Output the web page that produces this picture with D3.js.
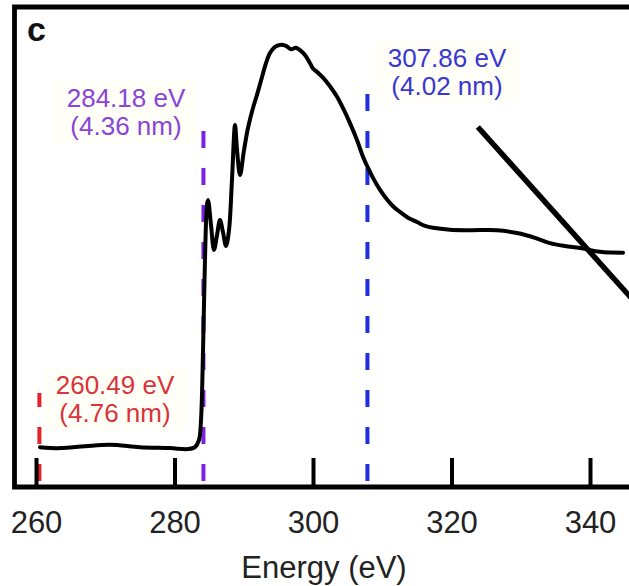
<!DOCTYPE html>
<html>
<head>
<meta charset="utf-8">
<script src="https://cdn.jsdelivr.net/npm/d3@7"></script>
<style>
  html, body { margin: 0; padding: 0; background: #fff; }
  svg { display: block; font-family: "Liberation Sans", Arial, sans-serif; }
</style>
</head>
<body>
<div id="chart"></div>
<script>
// spectrum: energy (eV) and normalised absorbance (0-100)
const energy = [260.58, 263.47, 267.08, 270.69, 275.02, 279.35, 281.95, 282.96, 283.54, 283.83,
  284.12, 284.40, 284.69, 284.84, 285.27, 285.70, 286.14, 286.57, 287.00, 287.44,
  287.87, 288.30, 288.74, 289.03, 289.46, 290.04, 290.61, 291.34, 291.91, 292.64,
  293.21, 293.79, 294.51, 295.23, 296.10, 296.82, 297.55, 298.12, 298.84, 299.57,
  300.00, 300.72, 301.44, 302.45, 303.47, 304.48, 305.34, 306.35, 307.22, 307.94,
  308.66, 309.68, 310.69, 311.55, 312.56, 313.72, 315.02, 316.17, 317.33, 319.78,
  322.67, 326.57, 329.46, 332.06, 334.22, 336.39, 338.56, 341.44, 344.77];
const absorb = [8.3, 8.1, 8.5, 8.8, 8.3, 8.1, 7.9, 8.3, 9.8, 14.0,
  28.5, 47.3, 58.8, 59.8, 54.6, 49.4, 52.5, 55.6, 53.1, 50.2,
  53.5, 64.0, 75.4, 70.2, 65.0, 70.2, 74.8, 79.0, 81.7, 85.4,
  88.3, 90.4, 91.7, 92.1, 91.9, 91.2, 91.5, 91.0, 90.0, 88.3,
  87.2, 86.3, 85.3, 83.5, 81.3, 78.5, 75.8, 72.3, 68.8, 66.5,
  64.4, 61.9, 59.9, 58.5, 57.3, 56.1, 55.2, 54.4, 54.0, 53.6,
  53.5, 53.5, 52.9, 51.9, 50.8, 50.2, 49.8, 49.0, 48.8];

// marked energies
const markEnergy = [260.49, 284.18, 307.86];
const markTop = [19.6, 74.4, 83.1];
const markLine1 = ["260.49 eV", "284.18 eV", "307.86 eV"];
const markLine2 = ["(4.76 nm)", "(4.36 nm)", "(4.02 nm)"];
const markColor = ["#e8222a", "#7d22e0", "#1f2ee0"];
const markTextColor = ["#d9343a", "#8a45d6", "#3838d0"];
const markLabelX = [115, 126, 447];
const markLabelY = [19.4, 79.1, 87.5];

const xTicks = [260, 280, 300, 320, 340];

// the diagonal stroke on the right
const slashEnergy = [323.8, 346.5];
const slashValue = [75.0, 38.5];

const W = 629, H = 586;
const x = d3.scaleLinear().domain([260, 340]).range([36, 590]);
const y = d3.scaleLinear().domain([0, 100]).range([487, 7]);

const svg = d3.select("#chart").append("svg")
  .attr("width", W).attr("height", H)
  .attr("viewBox", `0 0 ${W} ${H}`);

// faint label backgrounds
markEnergy.forEach((e, i) => {
  svg.append("rect")
    .attr("x", markLabelX[i] - 72)
    .attr("y", y(markLabelY[i]) - 26)
    .attr("width", 144)
    .attr("height", 62)
    .attr("fill", "#fffef7");
});

// dashed markers, drawn from the bottom up so dashes line up with the axis
markEnergy.forEach((e, i) => {
  svg.append("line")
    .attr("x1", x(e)).attr("x2", x(e))
    .attr("y1", y(1.25)).attr("y2", y(markTop[i]))
    .attr("stroke", markColor[i])
    .attr("stroke-width", 4)
    .attr("stroke-dasharray", "17,20");
});

// labels, one text per line
markEnergy.forEach((e, i) => {
  [markLine1[i], markLine2[i]].forEach((s, k) => {
    svg.append("text")
      .attr("x", markLabelX[i])
      .attr("y", y(markLabelY[i]) + k * 28)
      .attr("text-anchor", "middle")
      .attr("font-size", "26px")
      .attr("fill", markTextColor[i])
      .text(s);
  });
});

// spectrum
const pts = energy.map((e, i) => [e, absorb[i]]);
svg.append("path")
  .datum(pts)
  .attr("fill", "none")
  .attr("stroke", "#000")
  .attr("stroke-width", 4)
  .attr("stroke-linejoin", "round")
  .attr("stroke-linecap", "round")
  .attr("d", d3.line()
    .x(d => x(d[0]))
    .y(d => y(d[1]))
    .curve(d3.curveCatmullRom.alpha(0.5)));

// diagonal stroke
svg.append("line")
  .attr("x1", x(slashEnergy[0])).attr("y1", y(slashValue[0]))
  .attr("x2", x(slashEnergy[1])).attr("y2", y(slashValue[1]))
  .attr("stroke", "#000")
  .attr("stroke-width", 5.5);

// bottom axis, ticks pointing inward
const axis = svg.append("g")
  .attr("transform", `translate(0,${y(0)})`)
  .call(d3.axisBottom(x).tickValues(xTicks).tickSizeInner(-29).tickSizeOuter(0).tickPadding(24));
axis.select(".domain").remove();
axis.selectAll(".tick line").attr("stroke", "#000").attr("stroke-width", 4);
axis.selectAll(".tick text")
  .attr("font-size", "31px")
  .attr("font-family", "Liberation Sans, Arial, sans-serif")
  .attr("fill", "#222");

// frame (right side is cut off in the source)
svg.append("path")
  .attr("d", `M${W},7 H14.5 V${y(0)} H${W}`)
  .attr("fill", "none")
  .attr("stroke", "#000")
  .attr("stroke-width", 4.8);

svg.append("text")
  .attr("x", 324).attr("y", 578)
  .attr("text-anchor", "middle")
  .attr("font-size", "31px")
  .attr("fill", "#222")
  .text("Energy (eV)");

svg.append("text")
  .attr("x", 27).attr("y", 41)
  .attr("font-size", "34px")
  .attr("font-weight", "bold")
  .attr("fill", "#111")
  .text("c");
</script>
</body>
</html>
